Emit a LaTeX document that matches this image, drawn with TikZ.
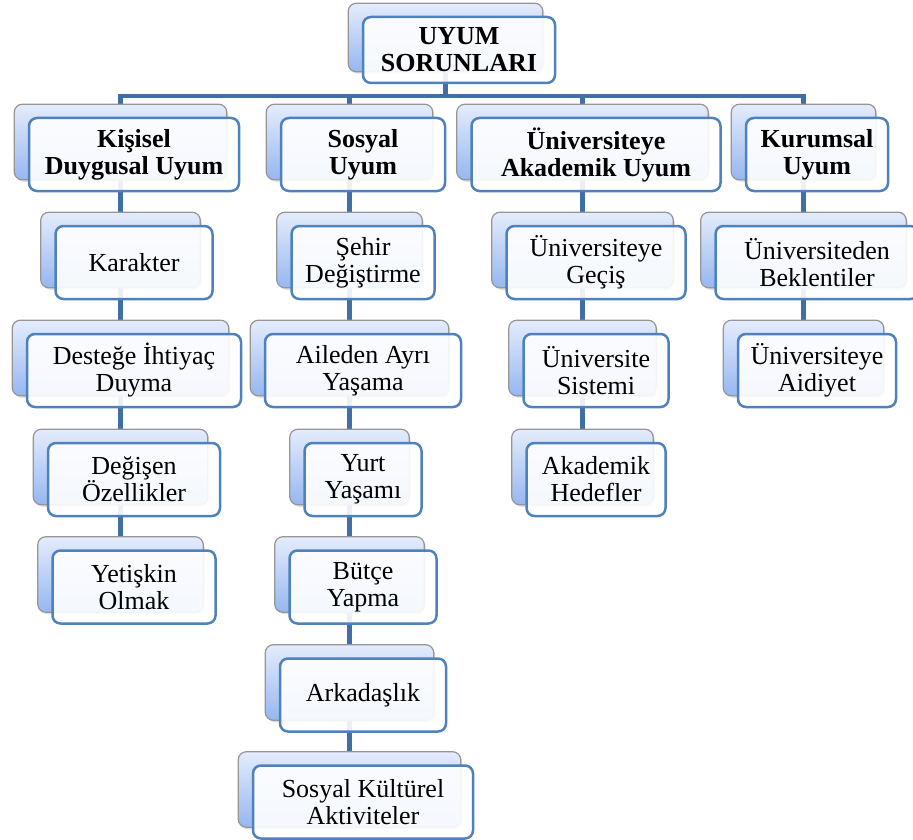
\documentclass[tikz,border=0pt]{standalone}
\usepackage{fontspec}
\setmainfont{Liberation Serif}
\usetikzlibrary{fit, shadows}
\definecolor{cardblue}{RGB}{79,129,189}
\definecolor{linkblue}{RGB}{66,110,166}
\definecolor{backtop}{RGB}{228,236,252}
\definecolor{backbottom}{RGB}{150,183,240}
\definecolor{backgray}{RGB}{150,150,150}
\pgfdeclarelayer{back}
\pgfdeclarelayer{links}
\pgfsetlayers{links,back,main}
\tikzstyle{card} = [rectangle, rounded corners=8pt, minimum height=73pt, inner sep=2pt, align=center, draw=cardblue, line width=2.5pt, fill=white, fill opacity=0.9, text opacity=1, font=\fontsize{26}{27}\selectfont]
\tikzstyle{head} = [card, font=\fontsize{26}{27}\selectfont\bfseries]
\tikzstyle{backcard} = [rectangle, rounded corners=8pt, inner sep=0pt, draw=backgray, line width=1.2pt, top color=backtop, bottom color=backbottom, drop shadow={shadow xshift=1.5pt, shadow yshift=-2pt, opacity=0.25}]
\tikzstyle{link} = [draw=linkblue, line width=4.8pt]

\begin{document}
\begin{tikzpicture}[x=1pt, y=-1pt]
		\useasboundingbox (0,0) rectangle (913,840);
		% top
		\node (root) [head, minimum width=192pt, minimum height=66pt] at (459,50) {UYUM\\SORUNLARI};
		% first row
		\node (kisisel) [head, minimum width=210pt] at (134,154.5) {Kişisel\\Duygusal Uyum};
		\node (sosyal) [head, minimum width=164pt] at (363,154.5) {Sosyal\\Uyum};
		\node (akademik) [head, minimum width=249pt] at (596,154.5) {Üniversiteye\\Akademik Uyum};
		\node (kurumsal) [head, minimum width=142pt] at (817,154.5) {Kurumsal\\Uyum};
		% Kisisel column
		\node (karakter) [card, minimum width=157pt] at (134,262.5) {Karakter};
		\node (destege) [card, minimum width=214pt] at (134,370.5) {Desteğe İhtiyaç\\Duyma};
		\node (degisen) [card, minimum width=172pt] at (134,479.5) {Değişen\\Özellikler};
		\node (yetiskin) [card, minimum width=163pt] at (134,587) {Yetişkin\\Olmak};
		% Sosyal column
		\node (sehir) [card, minimum width=143pt] at (363,262.5) {Şehir\\Değiştirme};
		\node (aileden) [card, minimum width=196pt] at (363,370.5) {Aileden Ayrı\\Yaşama};
		\node (yurt) [card, minimum width=117pt] at (363,479.5) {Yurt\\Yaşamı};
		\node (butce) [card, minimum width=147pt] at (363,587) {Bütçe\\Yapma};
		\node (arkadaslik) [card, minimum width=166pt] at (363,695) {Arkadaşlık};
		\node (kulturel) [card, minimum width=220pt] at (363,802) {Sosyal Kültürel\\Aktiviteler};
		% Akademik column
		\node (gecis) [card, minimum width=179pt] at (596,262.5) {Üniversiteye\\Geçiş};
		\node (sistem) [card, minimum width=145pt] at (596,370.5) {Üniversite\\Sistemi};
		\node (hedef) [card, minimum width=139pt] at (596,479.5) {Akademik\\Hedefler};
		% Kurumsal column
		\node (beklenti) [card, minimum width=203pt] at (817,262.5) {Üniversiteden\\Beklentiler};
		\node (aidiyet) [card, minimum width=158pt] at (817,370.5) {Üniversiteye\\Aidiyet};

		\begin{pgfonlayer}{back}
		\foreach \n in {root,kisisel,sosyal,akademik,kurumsal,karakter,destege,degisen,yetiskin,sehir,aileden,yurt,butce,arkadaslik,kulturel,gecis,sistem,hedef,beklenti,aidiyet}
			\node (\n-b) [backcard, fit=(\n), xshift=-13.5pt, yshift=12.5pt] {};
		\end{pgfonlayer}

		\begin{pgfonlayer}{links}
		\coordinate (busy) at (0,96);
		\coordinate (bus) at (root-b |- busy);
		\draw [link] (root-b) -- (bus);
		\draw [link] (bus) -| (kisisel-b);
		\draw [link] (bus) -| (sosyal-b);
		\draw [link] (bus) -| (akademik-b);
		\draw [link] (bus) -| (kurumsal-b);
		\draw [link] (kisisel-b) -- (karakter-b);
		\draw [link] (karakter-b) -- (destege-b);
		\draw [link] (destege-b) -- (degisen-b);
		\draw [link] (degisen-b) -- (yetiskin-b);
		\draw [link] (sosyal-b) -- (sehir-b);
		\draw [link] (sehir-b) -- (aileden-b);
		\draw [link] (aileden-b) -- (yurt-b);
		\draw [link] (yurt-b) -- (butce-b);
		\draw [link] (butce-b) -- (arkadaslik-b);
		\draw [link] (arkadaslik-b) -- (kulturel-b);
		\draw [link] (akademik-b) -- (gecis-b);
		\draw [link] (gecis-b) -- (sistem-b);
		\draw [link] (sistem-b) -- (hedef-b);
		\draw [link] (kurumsal-b) -- (beklenti-b);
		\draw [link] (beklenti-b) -- (aidiyet-b);
		\end{pgfonlayer}
\end{tikzpicture}
\end{document}
